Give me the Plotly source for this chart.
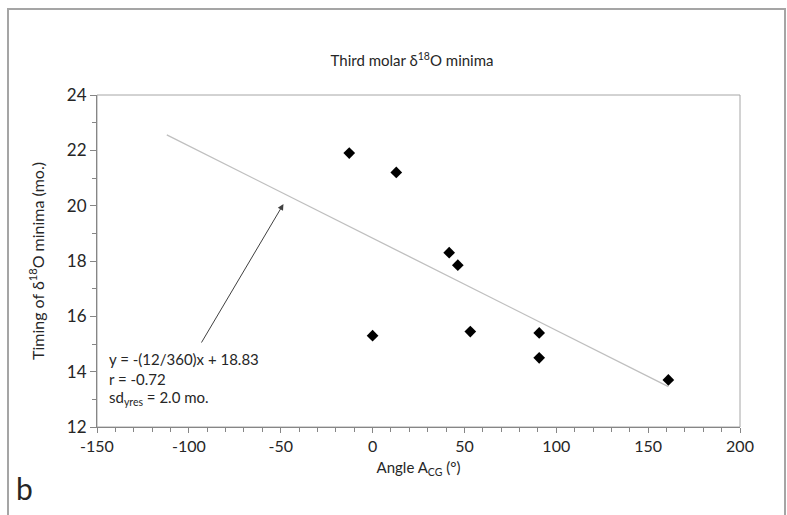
import plotly.graph_objects as go

# Data
angle = [-12.7, 12.9, 41.7, 46.4, 0.0, 53.2, 90.7, 90.7, 161.0]
timing = [21.9, 21.2, 18.3, 17.85, 15.3, 15.45, 15.4, 14.5, 13.7]

trend_x = [-112, 161]
trend_y = [22.56, 13.46]

eq_lines = ["y = -(12/360)x + 18.83", "r = -0.72", "sd<sub>yres</sub> = 2.0 mo."]
eq_y = [14.46, 13.74, 13.05]

x_ticks = [-150, -100, -50, 0, 50, 100, 150, 200]
x_labels = ["-150", "-100", "-50", "0", "50", "100", "150", "200"]
y_ticks = [12, 14, 16, 18, 20, 22, 24]
y_labels = ["12", "14", "16", "18", "20", "22", "24"]

FONT = "Lato"
AX = "#868686"
TXT = "#262626"

fig = go.Figure()
fig.add_trace(go.Scatter(x=trend_x, y=trend_y, mode="lines",
                         line=dict(color="#bfbfbf", width=1.3), showlegend=False,
                         hoverinfo="skip"))
fig.add_trace(go.Scatter(x=angle, y=timing, mode="markers",
                         marker=dict(symbol="diamond", size=9, color="black"),
                         showlegend=False))

fig.update_layout(
    width=787, height=515,
    margin=dict(l=97, r=47, t=95, b=88),
    paper_bgcolor="white", plot_bgcolor="white",
    font=dict(family=FONT, color=TXT, size=15),
    title=dict(text="Third molar δ<sup>18</sup>O minima", x=0.49, xref="paper",
               xanchor="center", y=1 - 61 / 515, yanchor="middle",
               font=dict(family=FONT, size=15, color=TXT)),
    xaxis=dict(range=[-150, 200], tickvals=x_ticks, ticktext=x_labels,
               showgrid=False, zeroline=False,
               showline=True, linecolor=AX, linewidth=1, mirror=False,
               ticks="outside", ticklen=5, tickcolor=AX,
               minor=dict(dtick=10, ticks="outside", ticklen=4, tickcolor=AX),
               tickfont=dict(size=16, family=FONT, color=TXT),
               title=dict(text="Angle A<sub>CG</sub> (°)", standoff=8,
                          font=dict(size=15, family=FONT, color=TXT))),
    yaxis=dict(range=[12, 24], tickvals=y_ticks, ticktext=y_labels,
               showgrid=False, zeroline=False,
               showline=True, linecolor=AX, linewidth=1,
               ticks="outside", ticklen=6, tickcolor=AX,
               minor=dict(dtick=1, ticks="outside", ticklen=4, tickcolor=AX),
               tickfont=dict(size=17, family=FONT, color=TXT),
               title=dict(text="Timing of δ<sup>18</sup>O minima (mo.)", standoff=18,
                          font=dict(size=16, family=FONT, color=TXT))),
)

# plot area border (top/right)
fig.add_shape(type="rect", xref="paper", yref="paper", x0=0, y0=0, x1=1, y1=1,
              line=dict(color="#a6a6a6", width=1), layer="below")
# outer chart border
fig.add_shape(type="rect", xref="paper", yref="paper",
              x0=(8 - 97) / 643, x1=(785 - 97) / 643,
              y0=(427 - 530) / 332, y1=(427 - 9) / 332,
              line=dict(color="#a5a5a5", width=2))

# arrow
fig.add_annotation(x=-48.5, y=20.06, ax=-93.6, ay=15.0, axref="x", ayref="y",
                   xref="x", yref="y", text="", showarrow=True,
                   arrowhead=2, arrowsize=1.2, arrowwidth=1, arrowcolor="#404040")

for t, yy in zip(eq_lines, eq_y):
    fig.add_annotation(x=-144.6, y=yy, xref="x", yref="y", text=t, showarrow=False,
                       xanchor="left", yanchor="middle",
                       font=dict(size=15, family=FONT, color=TXT))

fig.add_annotation(x=(14 - 97) / 643, y=(427 - 488) / 332, xref="paper", yref="paper",
                   text="b", showarrow=False, xanchor="left", yanchor="middle",
                   font=dict(size=30, family=FONT, color=TXT))

fig.write_html("out.html")
